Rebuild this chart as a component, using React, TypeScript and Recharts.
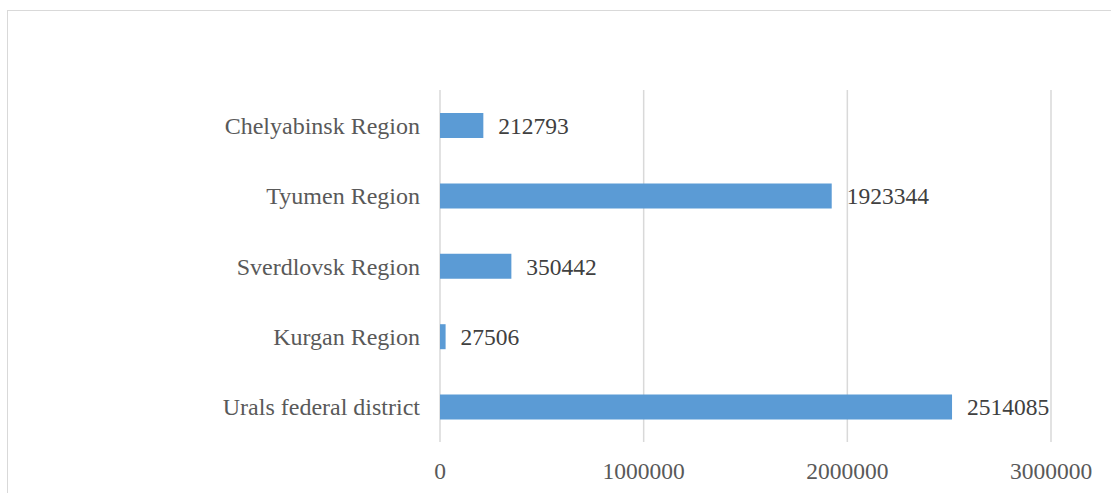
import { BarChart, Bar, XAxis, YAxis, CartesianGrid, LabelList } from 'recharts';

// Regions listed top to bottom as they appear in the chart
const REGIONS = [
  'Chelyabinsk Region',
  'Tyumen Region',
  'Sverdlovsk Region',
  'Kurgan Region',
  'Urals federal district',
];
const VALUES = [212793, 1923344, 350442, 27506, 2514085];
const X_TICKS = [0, 1000000, 2000000, 3000000];

const BAR_COLOUR = '#5B9BD5';
const GRID_COLOUR = '#D9D9D9';
const FONT = '"Liberation Serif", "Times New Roman", serif';

const data = REGIONS.map((name, i) => ({ name, value: VALUES[i] }));

export default function App() {
  return (
    <div style={{ position: 'absolute', left: 0, top: 0, width: 1111, height: 493, overflow: 'hidden', background: '#fff' }}>
      {/* outer chart frame, runs off the right and bottom like the original */}
      <div
        style={{
          position: 'absolute', left: 7, top: 10, width: 1130, height: 520,
          border: `1px solid ${GRID_COLOUR}`,
        }}
      />
      <div style={{ position: 'absolute', left: 0, top: 0 }}>
        <BarChart
          width={1111}
          height={493}
          data={data}
          layout="vertical"
          margin={{ top: 90, right: 60, bottom: 0, left: 0 }}
          barCategoryGap="32%"
          style={{ fontFamily: FONT }}
        >
          <CartesianGrid horizontal={false} stroke={GRID_COLOUR} strokeWidth={1.5} />
          <XAxis
            type="number"
            domain={[0, 3000000]}
            ticks={X_TICKS}
            height={51}
            axisLine={false}
            tickLine={false}
            tickMargin={14}
            interval={0}
            tick={{ fontSize: 23.5, fill: '#595959', fontFamily: FONT }}
          />
          <YAxis
            type="category"
            dataKey="name"
            width={440}
            axisLine={false}
            tickLine={false}
            tickMargin={14}
            tick={{ fontSize: 24, fill: '#595959', fontFamily: FONT }}
          />
          <Bar dataKey="value" fill={BAR_COLOUR} barSize={25} isAnimationActive={false}>
            <LabelList
              dataKey="value"
              position="right"
              offset={15}
              fill="#404040"
              fontSize={23.5}
              fontFamily={FONT}
            />
          </Bar>
        </BarChart>
      </div>
    </div>
  );
}
